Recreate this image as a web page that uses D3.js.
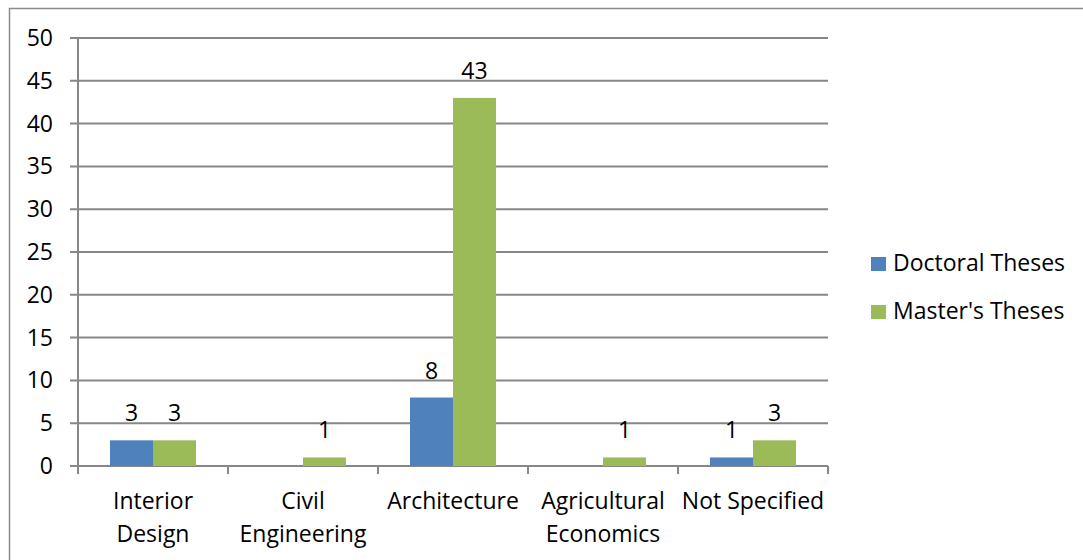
<!DOCTYPE html>
<html>
<head>
<meta charset="utf-8">
<script src="https://cdn.jsdelivr.net/npm/d3@7"></script>
<style>
  body { margin: 0; background: #fff; }
  svg text { font-family: "Open Sans", sans-serif; font-size: 23px; fill: #000; }
</style>
</head>
<body>
<svg width="1083" height="560"></svg>
<script>
// chart data
const categories = [["Interior", "Design"], ["Civil", "Engineering"], ["Architecture"], ["Agricultural", "Economics"], ["Not Specified"]]
const seriesNames = ["Doctoral Theses", "Master's Theses"]
const doctoral = [3, 0, 8, 0, 1]
const masters = [3, 1, 43, 1, 3]
const yTicks = [0, 5, 10, 15, 20, 25, 30, 35, 40, 45, 50]
const colors = ["#4f81bd", "#9bbb59"]

function render_chart()
{
    let svg = d3.select("svg")
    const plot = {left: 78, right: 828, top: 38, bottom: 466}
    const gridColor = "#878787"

    // outer frame of the chart object, runs off the page right and bottom
    svg.append("rect")
        .attr("x", 9.5).attr("y", 8.5)
        .attr("width", 1100).attr("height", 600)
        .attr("fill", "none")
        .attr("stroke", "#8c8c8c")
        .attr("stroke-width", 1.5)

    let keys = categories.map(d => d.join(" "))
    let x0 = d3.scaleBand().domain(keys).range([plot.left, plot.right])
    let x1 = d3.scaleBand().domain(seriesNames)
        .range([0, x0.bandwidth()])
        .paddingOuter(0.744)
    let y = d3.scaleLinear().domain([0, 50]).range([plot.bottom, plot.top])

    // horizontal grid + y ticks
    svg.append("g")
        .selectAll("line")
        .data(yTicks)
        .enter()
        .append("line")
            .attr("x1", plot.left - 8)
            .attr("x2", plot.right)
            .attr("y1", d => y(d))
            .attr("y2", d => y(d))
            .attr("stroke", gridColor)
            .attr("stroke-width", 2)

    svg.append("g")
        .selectAll("text")
        .data(yTicks)
        .enter()
        .append("text")
            .attr("x", 53)
            .attr("y", d => y(d))
            .attr("dy", 8)
            .attr("text-anchor", "end")
            .text(d => d)

    let rows = keys.map((k, i) => ({key: k, values: [doctoral[i], masters[i]]}))

    let groups = svg.append("g")
        .selectAll("g")
        .data(rows)
        .enter()
        .append("g")
            .attr("transform", d => `translate(${x0(d.key)},0)`)

    groups.selectAll("rect")
        .data(d => d.values.map((v, j) => ({name: seriesNames[j], value: v, color: colors[j]})))
        .enter()
        .append("rect")
            .attr("x", d => x1(d.name))
            .attr("y", d => y(d.value))
            .attr("width", x1.bandwidth())
            .attr("height", d => y(0) - y(d.value))
            .attr("fill", d => d.color)

    // value labels, zero values get none
    groups.selectAll("text")
        .data(d => d.values.map((v, j) => ({name: seriesNames[j], value: v})).filter(d => d.value > 0))
        .enter()
        .append("text")
            .attr("x", d => x1(d.name) + x1.bandwidth() / 2)
            .attr("y", d => y(d.value) - 19)
            .attr("text-anchor", "middle")
            .text(d => d.value)

    // axes lines
    svg.append("line")
        .attr("x1", plot.left).attr("x2", plot.left)
        .attr("y1", plot.top).attr("y2", plot.bottom + 8)
        .attr("stroke", gridColor).attr("stroke-width", 2)

    let xTicks = keys.map(k => x0(k)).concat([plot.right])
    svg.append("g")
        .selectAll("line")
        .data(xTicks)
        .enter()
        .append("line")
            .attr("x1", d => d).attr("x2", d => d)
            .attr("y1", plot.bottom).attr("y2", plot.bottom + 8)
            .attr("stroke", gridColor).attr("stroke-width", 2)

    // category labels, wrapped
    let labels = svg.append("g")
        .selectAll("text")
        .data(categories)
        .enter()
        .append("text")
            .attr("text-anchor", "middle")

    labels.selectAll("tspan")
        .data((d, i) => d.map(line => ({line: line, key: keys[i]})))
        .enter()
        .append("tspan")
            .attr("x", d => x0(d.key) + x0.bandwidth() / 2)
            .attr("y", (d, i) => 509 + i * 33)
            .text(d => d.line)

    // legend
    let legend = svg.append("g")
        .selectAll("g")
        .data(seriesNames)
        .enter()
        .append("g")
            .attr("transform", (d, i) => `translate(871,${257 + i * 48})`)
    legend.append("rect")
        .attr("width", 15).attr("height", 14)
        .attr("fill", (d, i) => colors[i])
    legend.append("text")
        .attr("x", 22)
        .attr("y", 14)
        .text(d => d)
}

render_chart()
</script>
</body>
</html>
